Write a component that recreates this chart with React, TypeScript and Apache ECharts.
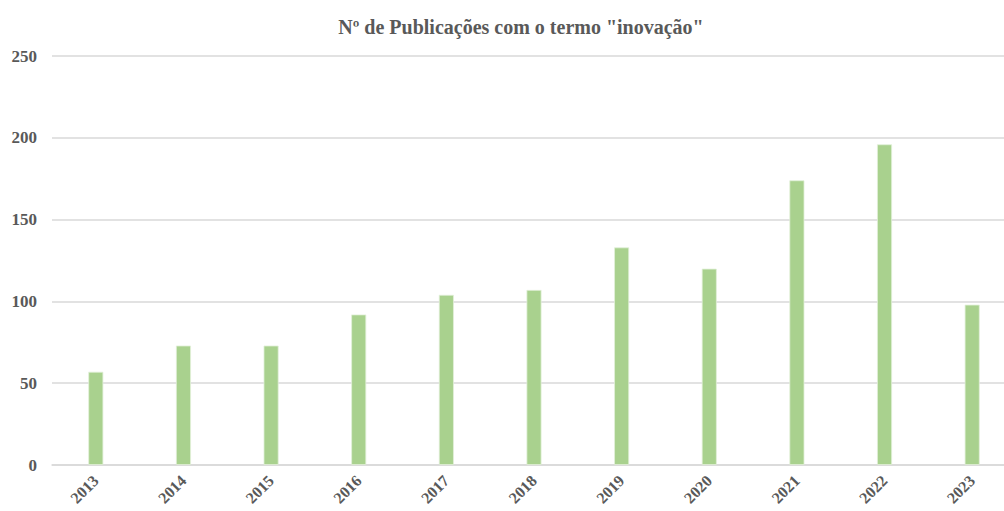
import React, { useEffect, useRef } from "react";
import * as echarts from "echarts";

const titleText = 'Nº de Publicações com o termo "inovação"';
const years = ["2013", "2014", "2015", "2016", "2017", "2018", "2019", "2020", "2021", "2022", "2023"];
const publications = [57, 73, 73, 92, 104, 107, 133, 120, 174, 196, 98];

export default function App() {
  const ref = useRef<HTMLDivElement>(null);
  useEffect(() => {
    const chart = echarts.init(ref.current!, null, { renderer: "svg" });
    const font = "Liberation Serif";
    chart.setOption({
      animation: false,
      backgroundColor: "#ffffff",
      title: {
        text: titleText,
        left: 516,
        textAlign: "center",
        top: 12,
        textStyle: { fontFamily: font, fontWeight: "bold", fontSize: 20, color: "#595959" },
      },
      grid: { left: 52, top: 56, right: 0, bottom: 46, containLabel: false, outerBoundsMode: "none" },
      xAxis: {
        type: "category",
        data: years,
        axisLine: { show: true, lineStyle: { color: "#d9d9d9", width: 1.5 } },
        axisTick: { show: false },
        axisLabel: {
          rotate: 45,
          margin: 13,
          fontFamily: font,
          fontWeight: "bold",
          fontSize: 16,
          color: "#595959",
        },
      },
      yAxis: {
        type: "value",
        min: 0,
        max: 250,
        interval: 50,
        axisLine: { show: false },
        axisTick: { show: false },
        splitLine: { lineStyle: { color: "#d9d9d9", width: 1.5 } },
        axisLabel: {
          margin: 15,
          fontFamily: font,
          fontWeight: "bold",
          fontSize: 17,
          color: "#595959",
        },
      },
      series: [
        {
          type: "bar",
          data: publications,
          barWidth: 15,
          itemStyle: { color: "#a9d18e", borderColor: "#e2f0d9", borderWidth: 0.8 },
        },
      ],
    });
    return () => chart.dispose();
  }, []);
  return (
    <div style={{ position: "absolute", left: 0, top: 0, width: 1004, height: 511, overflow: "hidden" }}>
      <div ref={ref} style={{ width: 1016, height: 511 }} />
    </div>
  );
}
